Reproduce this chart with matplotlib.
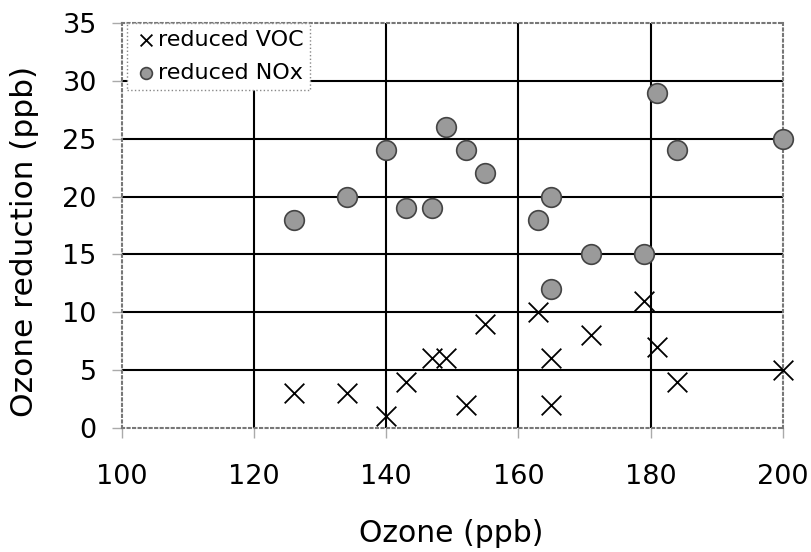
import matplotlib
matplotlib.use("Agg")
import matplotlib.pyplot as plt

ozone = [126, 134, 140, 143, 147, 149, 152, 155, 163, 165, 165, 171, 179, 181, 184, 200]
reduced_voc = [3, 3, 1, 4, 6, 6, 2, 9, 10, 6, 2, 8, 11, 7, 4, 5]
reduced_nox = [18, 20, 24, 19, 19, 26, 24, 22, 18, 20, 12, 15, 15, 29, 24, 25]

plt.rcParams['font.family'] = ['DejaVu Sans']

fig = plt.figure(figsize=(8.12, 5.52), dpi=100)
ax = fig.add_axes([0.150, 0.225, 0.814, 0.733])

ax.scatter(ozone, reduced_voc, marker='x', s=200, color='black', linewidths=1.3,
           label='reduced VOC', zorder=3, clip_on=False)
ax.scatter(ozone, reduced_nox, marker='o', s=200, facecolor='#9a9a9a', edgecolor='#444444',
           linewidths=1.2, label='reduced NOx', zorder=3, clip_on=False)

ax.set_xlim(100, 200)
ax.set_ylim(0, 35)
ax.set_xticks(range(100, 201, 20))
ax.set_yticks(range(0, 36, 5))

# solid black grid inside
for x in range(120, 200, 20):
    ax.axvline(x, color='black', lw=1.5, zorder=1)
for y in range(5, 35, 5):
    ax.axhline(y, color='black', lw=1.5, zorder=1)

for s in ax.spines.values():
    s.set_color('#777777')
    s.set_linestyle(':')
    s.set_linewidth(1.5)

ax.tick_params(direction='out', length=7, width=1, color='#aaaaaa', labelsize=19.5)
ax.tick_params(axis='x', pad=19)
ax.tick_params(axis='y', pad=11)

ax.set_xlabel('Ozone (ppb)', fontsize=21.5)
ax.set_ylabel('Ozone reduction (ppb)', fontsize=22.5)
ax.xaxis.set_label_coords(0.498, -0.225)
ax.yaxis.set_label_coords(-0.125, 0.46)

leg = ax.legend(loc='upper left', bbox_to_anchor=(0.008, 1.0), fontsize=16, frameon=True,
                fancybox=False, borderaxespad=0.0, handletextpad=0.0, handlelength=1.1,
                borderpad=0.3, labelspacing=0.6, markerscale=0.6)
leg.get_frame().set_edgecolor('#888888')
leg.get_frame().set_linestyle(':')
leg.get_frame().set_linewidth(1.0)
leg.get_frame().set_alpha(1.0)
leg.set_zorder(5)

plt.savefig('out.png', dpi=100)
